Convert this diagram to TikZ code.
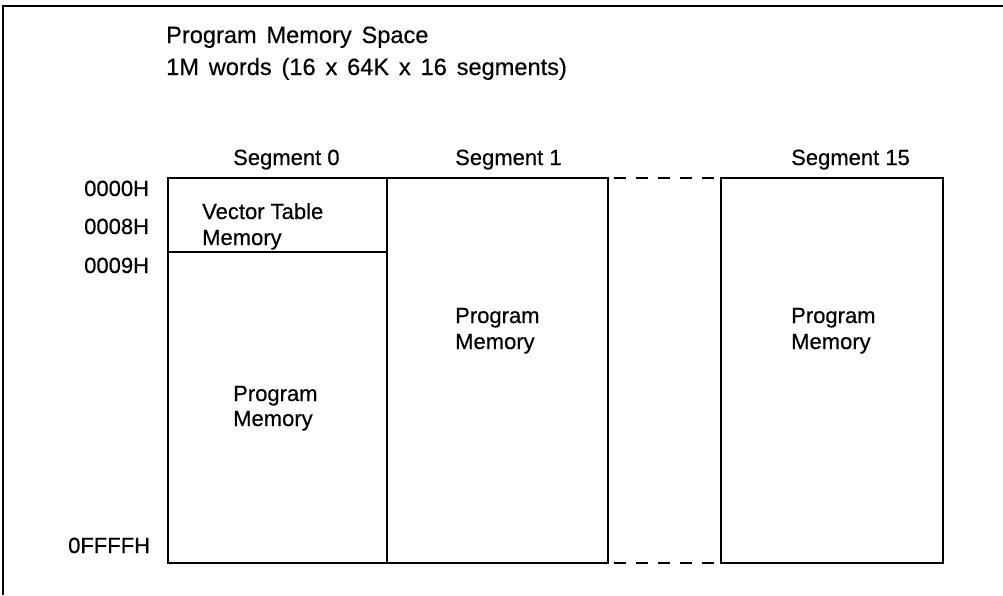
\documentclass[tikz,border=0pt]{standalone}
\usepackage{fontspec}
\setmainfont[FakeBold=0.4]{Liberation Sans}
\newfontfamily\ttlfont[FakeBold=0.4,WordSpace=1.5]{Liberation Sans}
\begin{document}
\begin{tikzpicture}[x=1pt,y=-1pt,
  seg/.style={draw,line width=2pt},
  lbl/.style={font=\fontsize{22}{24}\selectfont,inner sep=0pt,anchor=base west},
  ttl/.style={font=\ttlfont\fontsize{23.6}{26}\selectfont,inner sep=0pt,anchor=base west}]
\useasboundingbox (0,0) rectangle (1003,595);
% outer frame
\draw[line width=2pt] (3,595) -- (3,6) -- (1003,6);
% title
\node[ttl] (t1) at (166,43) {Program Memory Space};
\node[ttl] (t2) at (166,75) {1M words (16 x 64K x 16 segments)};
% segments
\draw[seg] (168,178) rectangle (387,563);
\draw[seg] (387,178) rectangle (608,563);
\draw[seg] (721,178) rectangle (943,563);
\coordinate (d1a) at (608,178); \coordinate (d1b) at (721,178);
\coordinate (d2a) at (608,563); \coordinate (d2b) at (721,563);
\draw[line width=2pt,dash pattern=on 12pt off 10pt,dash phase=-6pt] (d1a) -- (d1b);
\draw[line width=2pt,dash pattern=on 12pt off 10pt,dash phase=-6pt] (d2a) -- (d2b);
% divider
\coordinate (va) at (168,252); \coordinate (vb) at (387,252);
\draw[line width=1.2pt] (va) -- (vb);
% segment titles
\node[lbl] (h0) at (233,165) {Segment 0};
\node[lbl] (h1) at (455,165) {Segment 1};
\node[lbl] (h15) at (791,165) {Segment 15};
% addresses
\node[lbl] (a0) at (84,196) {0000H};
\node[lbl] (a1) at (84,234) {0008H};
\node[lbl] (a2) at (84,273) {0009H};
\node[lbl] (a3) at (68,553) {0FFFFH};
% contents
\node[lbl] (vt1) at (202,219) {Vector Table};
\node[lbl] (vt2) at (202,245) {Memory};
\node[lbl] (pm0a) at (233,401) {Program};
\node[lbl] (pm0b) at (233,426) {Memory};
\node[lbl] (pm1a) at (455,323) {Program};
\node[lbl] (pm1b) at (455,349) {Memory};
\node[lbl] (pm15a) at (791,323) {Program};
\node[lbl] (pm15b) at (791,349) {Memory};
\end{tikzpicture}
\end{document}
